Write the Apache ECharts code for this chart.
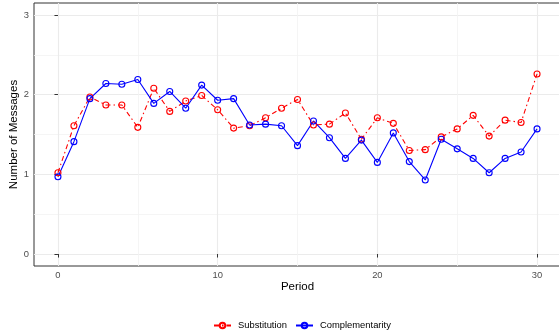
<!DOCTYPE html>
<html>
<head>
<meta charset="utf-8">
<script src="https://cdn.jsdelivr.net/npm/echarts@6/dist/echarts.min.js"></script>
<style>html,body{margin:0;padding:0;background:#fff}#c{width:559px;height:336px}</style>
</head>
<body>
<div id="c"></div>
<script>
const periods = [0,1,2,3,4,5,6,7,8,9,10,11,12,13,14,15,16,17,18,19,20,21,22,23,24,25,26,27,28,29,30];
const substitution = [1.02,1.61,1.97,1.87,1.87,1.59,2.08,1.79,1.92,1.99,1.81,1.58,1.61,1.71,1.83,1.94,1.62,1.63,1.77,1.44,1.71,1.64,1.30,1.31,1.47,1.57,1.74,1.48,1.68,1.65,2.26];
const complementarity = [0.97,1.41,1.95,2.14,2.13,2.19,1.89,2.04,1.83,2.12,1.93,1.95,1.62,1.63,1.61,1.36,1.67,1.46,1.20,1.43,1.15,1.52,1.16,0.93,1.44,1.32,1.20,1.02,1.20,1.28,1.57];
const xMajorTicks = [0,10,20,30];
const xMinorTicks = [5,15,25];
const yMajorTicks = [0,1,2,3];
const yMinorTicks = [0.5,1.5,2.5];

const FONT = '"Liberation Sans", Arial, sans-serif';
const chart = echarts.init(document.getElementById('c'), null, {renderer:'canvas'});
const pair = (ys) => periods.map((p,i)=>[p, ys[i]]);
const RED = '#ff0000', BLUE = '#0000ff';

chart.setOption({
  animation:false,
  backgroundColor:'#fff',
  grid:{left:34, top:3, width:527, height:263, show:true, borderColor:'#333', borderWidth:1, backgroundColor:'transparent', outerBoundsMode:'none', containLabel:false},
  xAxis:[{
    type:'value', min:-1.5, max:31.5,
    name:'Period', nameLocation:'middle', nameGap:15, nameMoveOverlap:false,
    nameTextStyle:{fontFamily:FONT, fontSize:11.5, color:'#000'},
    axisLine:{show:false},
    axisTick:{show:true, inside:false, customValues:xMajorTicks, length:3.5, lineStyle:{color:'#333'}},
    axisLabel:{customValues:xMajorTicks, fontFamily:FONT, fontSize:9.4, color:'#4d4d4d', margin:5},
    splitLine:{show:true, lineStyle:{color:'#ebebeb', width:1.1}}
  },{
    type:'value', min:-1.5, max:31.5, position:'bottom',
    axisLine:{show:false}, axisTick:{show:false, customValues:xMinorTicks}, axisLabel:{show:false, customValues:xMinorTicks},
    splitLine:{show:true, lineStyle:{color:'#f2f2f2', width:0.8}}
  }],
  yAxis:[{
    type:'value', min:-0.15, max:3.15,
    name:'Number of Messages', nameLocation:'middle', nameGap:14, nameRotate:90, nameMoveOverlap:false,
    nameTextStyle:{fontFamily:FONT, fontSize:11.5, color:'#000'},
    axisLine:{show:false},
    axisTick:{show:true, inside:false, customValues:yMajorTicks, length:3.5, lineStyle:{color:'#333'}},
    axisLabel:{customValues:yMajorTicks, fontFamily:FONT, fontSize:9.4, color:'#4d4d4d', margin:5},
    splitLine:{show:true, lineStyle:{color:'#ebebeb', width:1.1}}
  },{
    type:'value', min:-0.15, max:3.15, position:'left',
    axisLine:{show:false}, axisTick:{show:false, customValues:yMinorTicks}, axisLabel:{show:false, customValues:yMinorTicks},
    splitLine:{show:true, lineStyle:{color:'#f2f2f2', width:0.8}}
  }],
  legend:{
    left:208, top:316, itemWidth:17, itemHeight:7, itemGap:8,
    textStyle:{fontFamily:FONT, fontSize:9.4, color:'#000', padding:[0,0,0,2]},
    data:['Substitution','Complementarity']
  },
  series:[{
    name:'Substitution', type:'line', data:pair(substitution),
    symbol:'circle', symbolSize:6,
    lineStyle:{color:RED, width:1.1, type:[5,3,1.5,3]},
    itemStyle:{color:'rgba(255,255,255,0)', borderColor:RED, borderWidth:1.1}
  },{
    name:'Complementarity', type:'line', data:pair(complementarity),
    symbol:'circle', symbolSize:6,
    lineStyle:{color:BLUE, width:1.1, type:'solid'},
    itemStyle:{color:'rgba(255,255,255,0)', borderColor:BLUE, borderWidth:1.1}
  }]
});
</script>
</body>
</html>
